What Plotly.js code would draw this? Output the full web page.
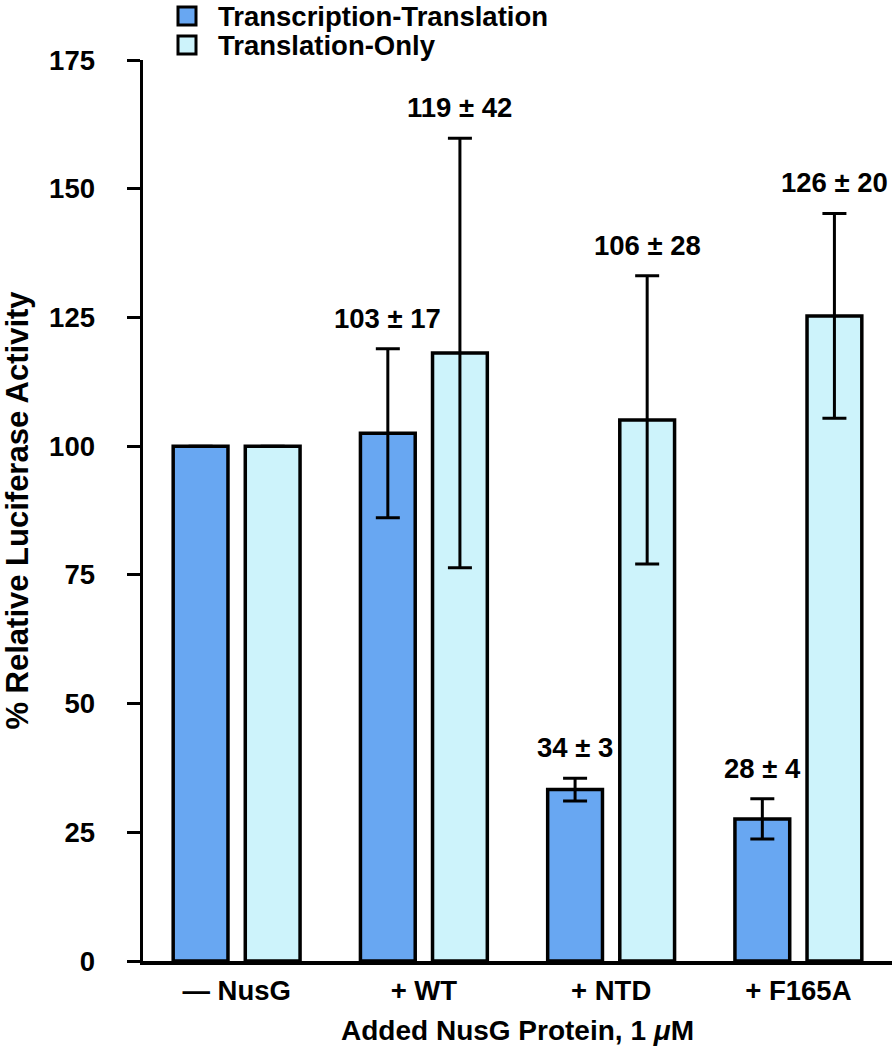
<!DOCTYPE html>
<html>
<head>
<meta charset="utf-8">
<script src="https://cdn.plot.ly/plotly-3.0.1.min.js"></script>
<style>html,body{margin:0;padding:0;background:#fff;}</style>
</head>
<body>
<div id="chart" style="width:894px;height:1050px;"></div>
<script>
// ---- data ----
const categories = ["\u2014 NusG", "+ WT", "+ NTD", "+ F165A"];
const seriesNames = ["Transcription-Translation", "Translation-Only"];
const txtlValues = [100, 102.5, 33.3, 27.6];
const txtlErrors = [0, 16.4, 2.2, 3.9];
const txlValues = [100, 118.1, 105.1, 125.3];
const txlErrors = [0, 41.7, 28.0, 19.9];
const txtlLabels = ["", "103 \u00b1 17", "34 \u00b1 3", "28 \u00b1 4"];
const txlLabels = ["", "119 \u00b1 42", "106 \u00b1 28", "126 \u00b1 20"];
const yTicks = [0, 25, 50, 75, 100, 125, 150, 175];

const FONT = "Liberation Sans, Arial, Helvetica, sans-serif";
const seriesColors = ["#68a7f2", "#cdf3fb"];

function barTrace(name, vals, errs, color) {
  return {
    type: "bar",
    name: name,
    x: categories,
    y: vals,
    marker: {color: color, line: {color: "#000", width: 3.5}},
    error_y: {type: "data", array: errs, visible: true, color: "#000", thickness: 3, width: 12},
    hoverinfo: "skip",
    showlegend: false
  };
}

const traces = [
  barTrace(seriesNames[0], txtlValues, txtlErrors, seriesColors[0]),
  barTrace(seriesNames[1], txlValues, txlErrors, seriesColors[1])
];

const offset = 0.1925;
const annotations = [];
function addLabels(vals, errs, labels, dx) {
  labels.forEach((t, i) => {
    if (!t) return;
    annotations.push({
      x: i + dx, xref: "x",
      y: vals[i] + errs[i], yref: "y",
      text: "<b>" + t + "</b>",
      showarrow: false,
      yanchor: "bottom",
      yshift: 13,
      font: {family: FONT, size: 27.5, color: "#000"}
    });
  });
}
addLabels(txtlValues, txtlErrors, txtlLabels, -offset);
addLabels(txlValues, txlErrors, txlLabels, offset);

// legend (key squares + labels above the plot)
const shapes = [];
const legendRows = [16, 45];
seriesNames.forEach((name, k) => {
  const mid = legendRows[k];
  shapes.push({
    type: "rect", xref: "paper", yref: "paper",
    xsizemode: "pixel", ysizemode: "pixel",
    xanchor: 0, yanchor: 1,
    x0: 35, x1: 53, y0: 60 - (mid + 9), y1: 60 - (mid - 9),
    fillcolor: seriesColors[k], line: {color: "#000", width: 3}
  });
  annotations.push({
    xref: "paper", yref: "paper",
    x: (216 - 143) / 749, y: (961 - mid) / 901,
    xanchor: "left", yanchor: "middle",
    text: "<b>" + name + "</b>", showarrow: false,
    font: {family: FONT, size: 27.5, color: "#000"}
  });
});

const layout = {
  width: 894, height: 1050,
  margin: {l: 143, r: 2, t: 60, b: 89},
  paper_bgcolor: "#fff", plot_bgcolor: "#fff",
  font: {family: FONT, color: "#000"},
  barmode: "group",
  bargap: 0.23,
  bargroupgap: 0.24,
  showlegend: false,
  xaxis: {
    type: "category",
    range: [-0.5, 3.5],
    showline: true, linecolor: "#000", linewidth: 4,
    ticks: "", showgrid: false, zeroline: false,
    tickfont: {family: FONT, size: 27.5, weight: "bold", color: "#000"},
    ticklabelstandoff: 2,
    title: {text: "<b>Added NusG Protein, 1 <i>\u03bc</i>M</b>", font: {family: FONT, size: 28, color: "#000"}, standoff: 16}
  },
  yaxis: {
    range: [0, 175],
    tickvals: yTicks,
    showline: true, linecolor: "#000", linewidth: 3.5,
    ticks: "outside", ticklen: 13, tickwidth: 3, tickcolor: "#000",
    showgrid: false, zeroline: false,
    tickfont: {family: FONT, size: 27.5, weight: "bold", color: "#000"},
    ticklabelstandoff: 26,
    title: {text: "<b>% Relative Luciferase Activity</b>", font: {family: FONT, size: 31, color: "#000"}, standoff: 20}
  },
  shapes: shapes,
  annotations: annotations
};

Plotly.newPlot("chart", traces, layout, {displayModeBar: false, staticPlot: true});
</script>
</body>
</html>
